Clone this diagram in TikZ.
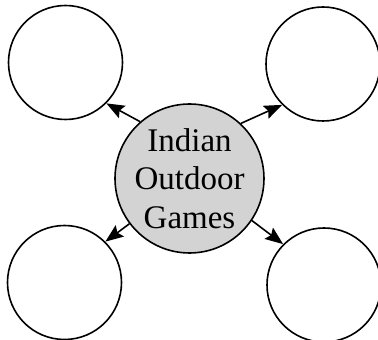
\documentclass[tikz,border=0pt]{standalone}
\usepackage{fontspec}
\setmainfont{Liberation Serif}
\usetikzlibrary{arrows.meta}

\definecolor{hubgray}{RGB}{211,211,211}

\begin{document}
\begin{tikzpicture}[x=1pt,y=1pt,line width=1.6pt,
  hub/.style={circle,draw,fill=hubgray,minimum size=130pt,inner sep=0pt,
    align=center,font=\fontsize{33}{38.5}\selectfont},
  leaf/.style={circle,draw,minimum size=114pt,inner sep=0pt},
  link/.style={-{Stealth[length=18pt,width=14pt,inset=3pt]}}]
\useasboundingbox (0,0) rectangle (378,340);

\node[leaf] (tl) at (65.5,277.5) {};
\node[leaf] (tr) at (323,276) {};
\node[leaf] (bl) at (64.5,57.5) {};
\node[leaf] (br) at (324,55) {};

\node[hub] (games) at (189.5,161.5) {Indian\\Outdoor\\Games};

\draw[link] (games.131) -- (tl.-45);
\draw[link] (games.47) -- (tr.225);
\draw[link] (games.-143) -- (bl.45);
\draw[link] (games.-34) -- (br.135);

\end{tikzpicture}
\end{document}
